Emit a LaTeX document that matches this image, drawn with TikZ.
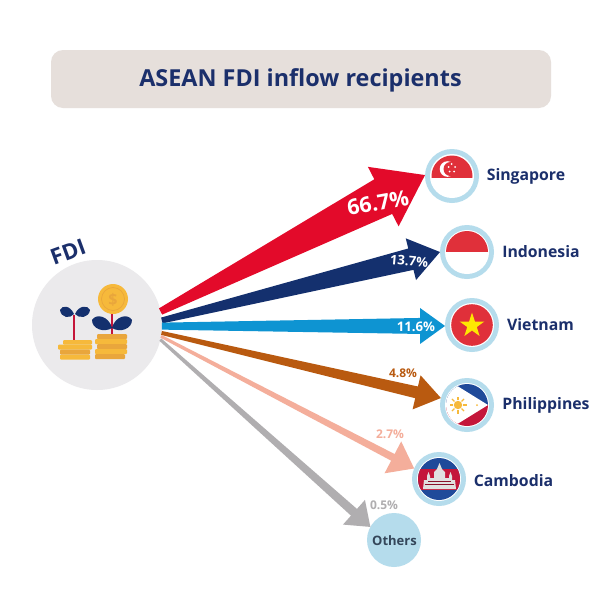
\documentclass[tikz,border=0pt]{standalone}
\usepackage{fontspec}
\setmainfont{Open Sans}
\usetikzlibrary{calc}
\definecolor{navy}{HTML}{1B2F6B}
\definecolor{panel}{HTML}{E6DFDB}
\definecolor{greycirc}{HTML}{EBEAEC}
\definecolor{ring}{HTML}{B5DCEC}
\definecolor{aRed}{HTML}{E30A2A}
\definecolor{aNavy}{HTML}{14306E}
\definecolor{aBlue}{HTML}{0E94D2}
\definecolor{aBrown}{HTML}{B95A10}
\definecolor{aSalmon}{HTML}{F4AE9B}
\definecolor{aGrey}{HTML}{B0AEB0}
\definecolor{flagRed}{HTML}{E0303A}
\definecolor{flagBlue}{HTML}{1F4A9A}
\definecolor{coinA}{HTML}{F6B93B}
\definecolor{coinB}{HTML}{E9A63C}
\definecolor{stem}{HTML}{C4163A}
\definecolor{othertxt}{HTML}{34465A}
\newcommand{\taper}[7]{%
  \coordinate (bs) at ($(#3)!#7pt!(#2)$);
  \coordinate (ctmp) at (#3);
  \fill[#1] ($(#2)!#4/2*1pt!-90:(bs)$) -- ($(bs)!#5/2*1pt!-90:(ctmp)$) -- ($(bs)!#6/2*1pt!-90:(ctmp)$) -- (ctmp)
    -- ($(bs)!#6/2*1pt!90:(ctmp)$) -- ($(bs)!#5/2*1pt!90:(ctmp)$) -- ($(#2)!#4/2*1pt!90:(bs)$) -- cycle;
}
\tikzset{
  x=1pt,y=-1pt,
  ringnode/.style={circle,fill=ring,inner sep=0pt,outer sep=0pt,minimum size=54pt},
  country/.style={font=\bfseries\fontsize{15.8}{18}\selectfont,text=navy,inner sep=0pt},
  pct/.style={font=\bfseries\fontsize{#1}{14}\selectfont,inner sep=0pt},
  coin/.style={rounded corners=1pt}
}
\begin{document}
\begin{tikzpicture}
\useasboundingbox (0,0) rectangle (600,600);
\fill[white] (0,0) rectangle (600,600);
% title
\node[fill=panel,rounded corners=12pt,minimum width=500pt,minimum height=58pt,inner sep=0pt] (titlebox) at (301,79) {};
\node[font=\bfseries\fontsize{23.4}{26}\selectfont,text=navy,inner sep=0pt] (title) at (300.5,80) {ASEAN FDI inflow recipients};
% FDI
\node[circle,fill=greycirc,inner sep=0pt,outer sep=0pt,minimum size=130pt] (fdi) at (97,325) {};
\node[font=\bfseries\fontsize{22}{24}\selectfont,text=navy,rotate=20,inner sep=0pt] (fdilabel) at (68,252) {FDI};
% targets
\node[ringnode] (sg) at (452,176) {};
\node[ringnode] (id) at (467,252) {};
\node[ringnode] (vn) at (472,325) {};
\node[ringnode] (ph) at (467,405) {};
\node[ringnode] (kh) at (439,479) {};
\node[ringnode] (ot) at (394,540) {};
\foreach \c in {sg,id,vn,ph,kh}{\fill[white] (\c) circle (22);}
% Singapore
\begin{scope}
\clip (sg) circle (20.5);
\fill[flagRed] (430,150) rectangle (475,177.5);
\end{scope}
\fill[white] (447.5,169) circle (7.8);
\fill[flagRed] (450.5,169) circle (7);
\fill[white] (451.5,164) circle (1) (455,167) circle (1) (454,171.5) circle (1) (449.5,171.5) circle (1) (448.5,167) circle (1);
% Indonesia
\begin{scope}
\clip (id) circle (21);
\fill[flagRed] (440,225) rectangle (495,252);
\end{scope}
% Vietnam
\fill[flagRed] (vn) circle (20.8);
\fill[yellow!90!orange] (472,312.5) -- (474.9,321.5) -- (484.4,321.5) -- (476.8,327) -- (479.6,336) -- (472,330.5) -- (464.4,336) -- (467.2,327) -- (459.6,321.5) -- (469.1,321.5) -- cycle;
% Philippines
\begin{scope}
\clip (ph) circle (21);
\fill[flagBlue] (440,380) rectangle (495,405);
\fill[stem] (440,405) rectangle (495,430);
\fill[white] (488,405) -- (446,379) -- (446,431) -- cycle;
\end{scope}
\fill[coinA] (458,405) circle (4.2);
\foreach \a in {0,45,...,315}{\draw[coinA,line width=1.2pt] ($(458,405)+(\a:5)$) -- ($(458,405)+(\a:8.5)$);}
\fill[coinA] (477,405) circle (1);
% Cambodia
\begin{scope}
\clip (kh) circle (21);
\fill[flagBlue] (415,455) rectangle (465,505);
\fill[stem] (415,469) rectangle (465,489.5);
\fill[white!88!black] (423,489) -- (424,480) -- (427,480) -- (427,476) -- (428.5,472) -- (430,476) -- (430,478) -- (434,478) -- (434,472) -- (437,469) -- (439.5,463) -- (442,469) -- (445,472) -- (445,478) -- (449,478) -- (449,476) -- (450.5,472) -- (452,476) -- (452,480) -- (455,480) -- (456,489) -- cycle;
\draw[stem!70!black,line width=.35pt] (425,484) -- (454,484) (428,481.5) -- (451,481.5);
\end{scope}
% arrows
\taper{aRed}{fdi.12}{sg.178}{7}{39}{67}{47}
\taper{aNavy}{fdi.4}{id.180}{6}{22}{43}{30}
\taper{aBlue}{fdi.-1}{vn.182}{7}{16}{36}{25}
\taper{aBrown}{fdi.-7}{ph.165}{4}{12}{35}{25}
\taper{aSalmon}{fdi.-10}{kh.157}{3}{7.5}{36}{24}
\taper{aGrey}{fdi.-13}{ot.151}{3}{9}{33}{22}
% percent labels
\node[pct=21.5,text=white,rotate=10] (p1) at (378,203) {66.7\%};
\node[pct=13.2,text=white,rotate=-5] (p2) at (409,261) {13.7\%};
\node[pct=13.2,text=white] (p3) at (416,327) {11.6\%};
\node[pct=12,text=aBrown] (p4) at (403,373) {4.8\%};
\node[pct=12,text=aSalmon] (p5) at (390,434) {2.7\%};
\node[pct=12,text=aGrey] (p6) at (384,505) {0.5\%};
% country labels
\node[country] (l1) at (526,176) {Singapore};
\node[country] (l2) at (541,252) {Indonesia};
\node[country] (l3) at (540.5,325) {Vietnam};
\node[country] (l4) at (546,405) {Philippines};
\node[country] (l5) at (513.5,481) {Cambodia};
\node[font=\bfseries\fontsize{13}{14}\selectfont,text=othertxt,inner sep=0pt] (l6) at (394.5,540.5) {Others};
% coins
\foreach \xa/\ya/\xb/\yb/\c in {63/340/92/344.5/coinA,58/344.5/92/349.5/coinA,60/349.5/90/354.5/coinB,60/354.5/90/359.5/coinA,
  97/334/127/339/coinB,95/339/127/344/coinA,97/344/127/349/coinB,95/349/127/354/coinA,95/354/125/359/coinB}
  {\fill[\c,coin] (\xa,\ya) rectangle (\xb,\yb);}
% plants
\draw[stem,line width=2.4pt] (74,315) -- (74,340);
\draw[stem,line width=2.4pt] (112,313) -- (112,334);
\fill[aNavy] (74,314) .. controls (70,305) and (62,305) .. (60,310) .. controls (61,318) and (70,319) .. (74,314);
\fill[aNavy] (75,314) .. controls (79,305) and (88,305) .. (90,310) .. controls (89,318) and (79,319) .. (75,314);
\fill[aNavy] (112,328) .. controls (109,316) and (96,313) .. (92,320) .. controls (92,329) and (104,333) .. (112,328);
\fill[aNavy] (112,328) .. controls (115,316) and (128,313) .. (132,320) .. controls (132,329) and (120,333) .. (112,328);
% coin
\fill[coinA] (113,299) circle (15);
\draw[coinB,line width=.7pt] (113,299) circle (11.5);
\node[font=\bfseries\fontsize{16}{18}\selectfont,text=coinB,inner sep=0pt] (dollar) at (113,299.5) {\$};
\end{tikzpicture}
\end{document}
